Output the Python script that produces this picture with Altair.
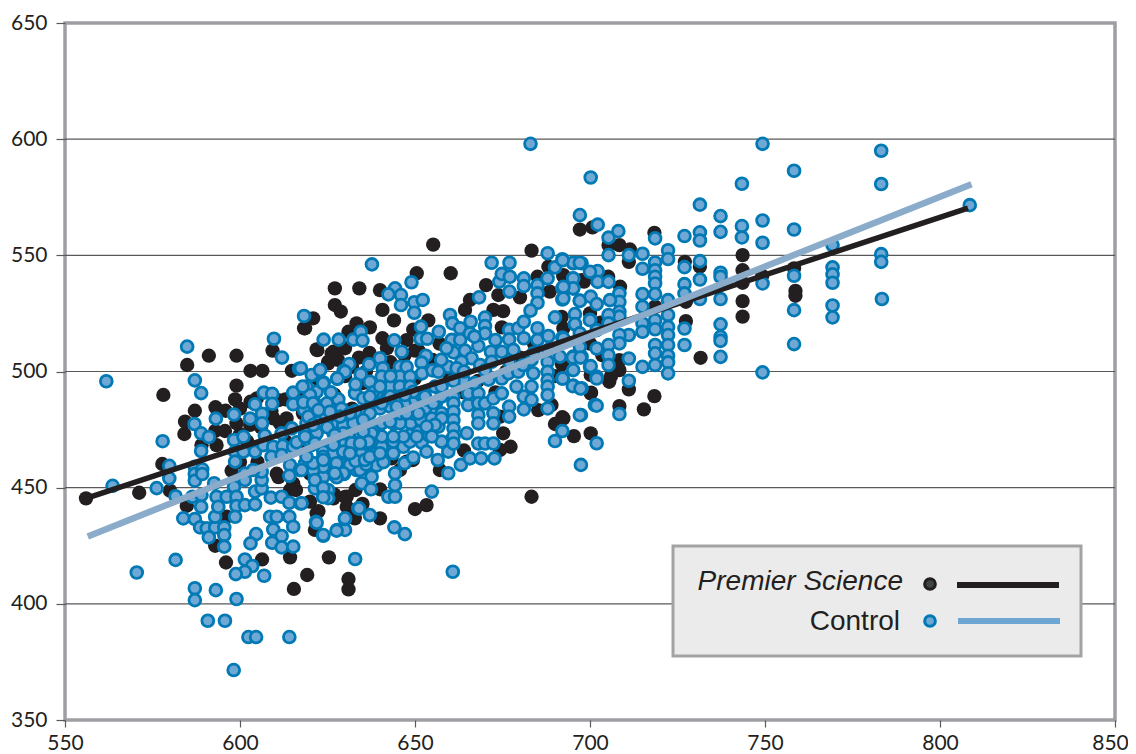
import altair as alt
import pandas as pd

# ---- data (x, y) ----
control_left = [
(561.8,495.8),(584.9,510.7),(587.1,496.2),(588.9,490.7),(577.9,470),(579.8,459.4),(579.8,454),(563.6,450.8),
(576.2,449.8),(581.6,446.3),(587,477.4),(588.9,473.4),(591.1,471.8),(588.9,465.8),(593.1,479.7),(598.3,481.5),
(602.9,479.7),(606.3,481.8),(606.3,477.7),(604.3,485.9),(606.8,490.9),(609.2,490.4),(609.2,486.1),(609.7,514.1),
(612,506),(616.9,501.2),(623.9,513.7),(628.2,513.7),(632.4,513.7),(622.7,500.3),(620.5,498.5),(623.9,495.2),
(627.8,496.9),(631.2,503.2),(629.6,500.3),(632.9,490.9),(615.2,490.9),(615.2,485.9),(618.3,487),(618.3,483.5),
(621.4,486.3),(621.9,491.3),(619,493.5),(625.2,486.3),(628.1,488),(626.7,482.7),(623.8,481.4),(619,477.7),
(618.6,473.4),(621.9,473.4),(627.6,477),(631.9,477.7),(598.3,470.5),(601,471.9),(607.1,472.4),(611.9,473.4),
(614.8,475.5),(598.6,465.5),(598.6,461.2),(601,465.5),(604.3,465.5),(606.7,468.3),(609.5,467.6),(612.2,468),
(615.2,467.6),(609,463.3),(611.9,464),(614.3,459.7),(614.1,455.1),(617.1,457.6),(618.6,460.4),(621.4,460.4),
(623.8,459.7),(621.4,454.7),(623.8,454.7),(621.4,449.7),(623.8,446.1),(625.2,449),(626.7,461.2),(629.5,459.7),
(631.4,459.7),(627.6,454.7),(629.7,455.9),(633.3,457.6),(623.8,465.5),(626.7,468.3),(630,465.5),(633,465),
(620.4,468.3),(616.2,469.5),
]
control_lowleft = [
(587.1,459),(587.1,455.9),(587.1,453),(589.2,457.9),(589.2,455.9),(586.4,446.1),(589,446.8),(588.9,441.8),
(583.8,436.8),(587.1,436.5),(588.6,432.9),(590.5,432.5),(592.9,432.9),(595.5,432.9),(591.1,428.6),(595.5,429.6),
(595.5,424.6),(592.9,437.5),(592.6,451.9),(593.3,446.1),(593.8,441.8),(596.2,446.1),(598.3,450.4),(599,446.1),
(599,442.1),(601.4,442.5),(604.3,442.8),(598.6,437.5),(604.3,448.3),(606.2,449.7),(606.2,453.3),(606.2,456.9),
(601.4,456.1),(603.8,457.6),(601.4,453.3),(608.8,445.7),(611.9,446.1),(614.1,443.5),(617.3,443.2),(608.6,437.5),
(610.5,437.5),(614.1,437.5),(609.5,432),(615.2,433.2),(611.9,429.2),(609.2,426.3),(611.9,424.3),(615.2,424.6),
(604.6,430),(603,426),(621.7,435.3),(623.8,429.3),(627.8,431.8),(630,431.8),(630,436.5),(633.8,441.1),(632.9,419.3),
(581.6,418.9),(570.5,413.5),(601.4,419.1),(603.5,416.3),(601.4,413.8),(598.8,412.8),(606.9,412.1),(587.1,406.7),
(587.1,401.6),(593.1,405.9),(599,402.1),(590.8,392.7),(595.7,392.7),(602.4,385.7),(604.6,385.7),(614.1,385.7),
(598.2,371.5),(660.8,413.8),
]
control_core = [
(637.7,546.1),(649,538.4),(644.3,535.8),(642.4,533.2),(646,532.9),(646,528.6),(649.8,529.8),(652.2,530.8),
(649.8,525.3),(618.3,523.9),(634.5,517.1),(635,513.3),(644.1,513.4),(646.2,508.5),(651.7,519.3),(651.6,514.1),
(653.5,514.1),(656.8,517.1),(653.1,506.8),(651.9,503.8),(652,499.2),(640,505.7),(640.8,501.4),(640.5,497.8),
(636.9,503.1),(634.5,498.8),(637.1,495.6),(630,499.9),(627.8,497),(623.8,494.9),(622.9,500.6),(617.4,501.4),
(620,489.9),(617.9,493.5),(618.1,486.7),(620.9,486.3),(624.8,486.3),(632.9,490.6),(635.2,488.4),(642.9,493.5),
(640,484.1),(645.7,502),(647.6,502),(645.7,497.8),(648.6,497.8),(645.7,493.5),(648.6,493.5),(652.4,490.6),
(655.7,493.5),(645.7,489.2),(649.5,486.3),(652.9,484.1),(657.6,482),(648.8,477.7),(651.7,479.1),(654.8,479.8),
(656.7,476.3),(648.6,472.7),(651.9,469.4),(653.3,465.5),(657.6,469.8),(659.5,465.5),(656.5,461.9),(659.5,456.2),
(663.1,459.8),(665.7,462.6),(668.9,462.6),(672.7,462.6),(654.8,448.3),(642.4,446.1),(644.3,446.1),(644.3,451.1),
(644.3,456.2),(643.8,464.8),(643.8,469.8),(640.5,467.6),(640.5,472),(643.8,477.7),(640.5,477.7),(637.6,464.8),
(637.1,469.1),(634.8,464.8),(634.3,473.4),(631.4,459.8),(629.5,456.2),(627.6,454.5),(623.8,459),(620.9,457.6),
(621.4,453.3),(623.8,450),(625.2,445.5),(623.8,445.9),(629.5,464.8),(626.7,464.8),(623.8,463.3),(620.9,460.5),
(637.6,454.7),(634.8,451.9),(637.4,449.3),(634.3,457.6),(634,441.1),(637.1,438.2),(630,436.8),(621.9,434.9),
(627.6,431.5),(623.8,429.6),(644.1,432.9),(647.1,430),(617.6,443.3),(626.7,473.4),(629.5,477),(619.5,470.5),
(627.1,469),(630,469),(632.9,469),(635.7,469),(640,489.2),(642.9,484.9),(637.1,482),(644.8,482),(649.5,482),
(645.7,477.7),(646.7,467.6),(648.6,469.8),(635,478),(638,474.5),(633,483),(629,484),(637.5,488),(642,488.5),
(631,473),(639,459.5),(641,461),(647,460.5),(649.5,463),(651,474),(654,472.5),(647,486),(653,488),(656,486.5),
(658,490),(655,500.5),(643,498),(638,491),(633,494.5),(626,491),(622,478),(625,476),(633,461.5),(636,460),
]
control_core_fill = [
(657.6,479.8),(655.7,477),(651,482),(645.7,482),(642.9,478.4),(637.6,473.4),(635.2,474.1),(632.4,477.7),(629.5,473.4),
(627.1,472.7),(618.6,471.9),(621.4,469.1),(626.7,468.4),(629.5,465.5),(631.9,469.1),(636.7,469.8),(634.3,469.1),(631.4,464.8),
(627.6,460.5),(623.8,461.9),(619,463.3),(617.6,457.6),(627.1,456.2),(635.7,461.9),(640.5,486.3),(642.9,489.2),(640,493.5),
(637.1,489.2),(631.4,482),(628.6,480.6),(625.7,482.7),(622.4,483.4),(619.5,480.6),(620.9,477),(635.2,479.1),(655.2,486.3),
(652.9,489.2),(657.6,489.2),(657.6,493.5),(649.5,491.3),(647.1,489.9),(644.8,484.9),(647.6,482),(653.3,476.3),(650.5,472),
(654.8,472),(646.7,472),(643.8,472),(637.1,463.3),(640,464.8),
]
control_mid = [
(660,524.3),(660.7,520.7),(662.9,518.6),(665.9,521.4),(670,523.2),(670,519.6),(670,516.4),(671.9,546.8),(677,546.8),
(668.3,531.9),(674.1,538.7),(674.8,542),(677.1,540.8),(677,534.4),(681.1,540.1),(681.1,536.8),(687.9,550.9),
(692.1,548.3),(690,544.8),(695.2,546.6),(697.6,546.6),(687.9,540.1),(685,537.2),(685,533.6),(685,529.6),(692.1,535.8),
(692.1,531),(695.2,540.1),(695.2,535.8),(697.1,530.5),(683,526.2),(695.7,524.7),(695.7,520.3),(690,523.3),(700,522.2),
(676.9,517.9),(676.9,513.8),(679.5,518.6),(681.1,521.4),(681.1,514.3),(685,518.6),(685,513.6),(688.1,515.3),(692.1,514.6),
(660.5,513.6),(662.9,513.6),(665.7,516.4),(661,508.2),(664.3,509),(668.1,511),(666.2,505.7),(663.3,504.2),(659.5,502),
(671.7,508.5),(674.8,508.5),(668.6,502.8),(671.9,504.2),(656.7,499.9),(661.9,501.4),(661,489.2),(661,486.3),(661,482.7),
(661,479.1),(661,475.5),(661,472),(661,469),(665.2,485.6),(665.2,490.6),(668.1,490.6),(668.1,486.3),(668.1,481.3),
(668.1,477.7),(668.1,469),(670,486.3),(672.4,488.4),(672.4,482),(672.4,477.7),(670,469),(672.4,469),(664.8,473.4),
(674.8,497),(674.8,490.6),(676.7,499.2),(679.5,499.9),(683.8,499.2),(679,493.5),(681.1,489.2),(681.1,483.7),(683.3,505),
(683.3,493.5),(683.3,487.8),(676.9,484.9),(676.9,480.6),(687.9,504.2),(687.9,499.9),(687.9,496.3),(687.9,493.5),
(687.9,489.9),(687.9,484.1),(692.1,497),(695.2,493.9),(697.6,492.8),(695.2,506.4),(697.6,506.4),(700,502),(701.9,497.8),
(701.4,485.6),(697.4,481.3),(692.1,474.4),(690,470.1),(701.9,469.1),(697.4,459.8),(680.9,502.8),(678.1,509.3),(688.1,509.3),
(683.8,507.8),(691.4,506.4),(664,496),(667,495),(671,496.5),(661,496),(657.5,505),(659,510),(664,500),(670,500.5),
(677,504),(673,513.5),(667,515),
]
control_right = [
(749.3,598),(783.2,595),(700.2,583.5),(758.3,586.4),(743.4,580.8),(783.2,580.7),(808.5,571.6),(731.4,571.8),(737.3,566.9),
(697.1,567.3),(702.2,563.2),(743.4,562.6),(749.3,565),(743.4,557.7),(737.3,560.1),(731.4,559.9),(731.4,556.4),(727,558.3),
(758.3,561.1),(749.3,555.4),(705.3,557.6),(708.1,560.4),(718.6,557.3),(722.3,552.2),(722.3,548.4),(715,550.7),(711.1,550.1),
(705.3,550.1),(718.6,546.9),(718.6,543.6),(718.6,540.8),(718.6,537.9),(715,544.2),(727,544.9),(731.4,547.5),(731.4,539.6),
(737.3,542.5),(737.3,540.8),(727,537.6),(727,533.6),(715,533.3),(718.6,533.3),(715,527.9),(722.3,530.7),(731.4,531.2),
(737.3,531.2),(722.3,524.3),(722.3,519.2),(722.3,515.7),(722.3,511.4),(722.3,506.8),(722.3,503.9),(722.3,499.2),(718.6,522.1),
(718.6,518.2),(715,520.7),(715,517.1),(727,518.5),(727,511.4),(718.6,511.4),(718.6,507.8),(718.6,502.8),(715,502),(711.1,515.7),
(711.1,505.6),(711.1,496),(737.3,520.3),(737.3,514.9),(737.3,513.2),(737.3,506.3),(758.3,541.2),(758.3,526.4),(758.3,511.8),
(749.3,537.9),(749.3,499.6),(769.3,554.4),(769.3,544.8),(769.3,541.8),(769.3,538.2),(769.3,528.4),(769.3,523.3),(783.2,550.5),
(783.2,547.2),(783.4,531.2),(683,598),
(702.2,543.2),(702.2,538.6),(700,542.9),(695.2,546.8),(697.1,546.8),(692.2,547.9),(695.2,540),(695.2,535.8),(692.4,536.5),
(692.4,531.4),(697.1,530.4),(700.2,532.2),(701.9,529),(695.7,520.4),(700,522.1),(701.9,517.8),(697.1,516.4),(692.4,514.2),
(697.1,510.6),(701.9,509.9),(695.1,506),(697.3,506),(700.2,502.3),(695.2,500.6),(701.9,497),(692.2,497),(695.1,493.7),
(697.3,492.7),(701.9,485.3),(697.1,481.2),(708.4,481.7),(708.4,533.6),(708.4,530),(708.4,525.7),(708.4,523.6),(708.4,515.7),
(708.4,512.1),(705.3,538.6),(705.7,530.7),(705.3,524.3),(705.3,520.7),(705.3,511.4),(705.3,507),(705.3,502.8),
]
premier_left = [
(556,445.4),(571.2,447.8),(578.1,489.9),(591.1,506.8),(599,506.8),(584.9,502.8),(603,500.3),(606.4,500.3),(609.3,509),(614.8,500.3),
(618.3,518.6),(622.1,509.2),(626.2,507.8),(625.2,504.2),(599,493.9),(598.6,488),(587.1,483.1),(593,484.6),(595.9,483.1),(584.3,478.4),
(584.1,473.1),(593.3,468.3),(589,468.3),(577.8,460.2),(580,448.7),(584.8,442.2),(592.9,474.4),(595.7,474.4),(599,477.7),(602.9,477),
(604.8,488.4),(611,487.7),(609.5,479.8),(613.3,479.8),(611.4,477.7),(597.6,457.3),(610.5,456),(611,454.5),(615.2,451.8),(614.3,449),
(621.9,439),(621.4,431.8),(630,446),(630.5,441.8),(632.8,436.8),(596.2,437.5),(592.9,425),(596,417.8),(606.3,419.1),(614.3,420),(625.4,420),
(619.2,412.4),(615.4,406.4),(631,410.7),(631,406.2),(600,484),(603,487),(618,482),(622,477),(628,473),(632,470),(618,470),(613,470),
(605,461),(600,461),(620,456),(616,449),(627,447),(633,449),(635,443),
(628,505),(632,502),(636,500),(643,504),(647,507),(651,509),(654,502),(641,498),(635,495),(630,498),(622,497),(618,490),(613,488),
(609,483),(606,476),(602,470),(600,473),
]
premier_mid = [
(655.2,554.6),(683.3,552),(660.2,542.3),(650.5,542.3),(627.1,535.8),(634.1,535.8),(640,535),(627.1,528.6),(628.8,525.8),(640.7,526.5),
(620.9,522.9),(618.6,518.6),(633.3,520.7),(637.1,519),(631,517.1),(640.7,514.3),(621.9,509.5),(626.7,508.5),(625.2,503.5),(647.6,513.5),
(650,509),(653.8,522),(649.5,518),(665.7,530.8),(664.3,526.5),(672.4,526.5),(675.2,526),(670.3,537.2),(673.8,532.9),(674.8,519),
(680,531.9),(685,540.8),(688.1,545.1),(688.5,534.4),(692.4,541.5),(698.3,538.7),(692.4,518.6),(698,513.5),(700.3,490.9),(692.1,480.3),
(690,477.4),(695.4,472.2),(700.2,473.4),(683.3,446.1),(653.3,442.5),(650,440.8),(677.3,467.6),(674.3,466.2),(675.2,473.4),(674.3,480.6),
(685.2,483.4),(689,485.6),(647.6,461.2),(643.3,462.6),(645.7,457.6),(657.1,457.6),(630.5,446.1),(631.4,440.4),(626.7,445.4),(620,444),
(622.4,439.9),(640,436.8),(640,449.3),(649.4,461.9),(660,470),(656,478),(664,466),(655,505),(657,512),(650,497),(660,498),(642,510),(637,508),
(634,506),(630,510),(644,522),(640,495),(632,484),(627,490),(664,491),(668,496),(676,500),(680,506),(684,512),(673,491),
]
premier_right = [
(697.1,561.1),(700.7,562),(718.4,559.7),(705.3,554.4),(708.4,554.4),(711.4,552.5),(711.1,547.2),(727.1,547.2),(731.4,545.1),(743.6,550.1),
(743.6,543.6),(743.6,538.2),(749.2,541.2),(758.3,544.4),(758.7,534.7),(758.7,532.6),(743.6,530.3),(743.6,523.6),(727.4,530),(727.4,521.7),
(718.6,527.9),(731.6,505.9),(708.4,504.9),(708.4,500.6),(705.5,495.6),(700.2,490.6),(711.1,492.3),(718.4,489.4),(715.4,483.7),(708.4,485.1),
(692.4,479.8),(700.2,498.5),(705.2,540.8),(708.6,536.5),(692.4,541),(697.6,539.3),(691.9,523.5),(700,525),(703,521),(700,512),(706,498),
(703.5,507),(692,503),(690,498),
]
legend_labels = ["Premier Science", "Control"]
y_ticks = [350, 400, 450, 500, 550, 600, 650]
x_ticks = [550, 600, 650, 700, 750, 800, 850]
grid_y = [400, 450, 500, 550, 600]
premier_fit = [(556, 445.4), (808, 570.3)]
control_fit = [(556.5, 429), (809, 580.6)]

def frame(*groups):
    rows = [p for g in groups for p in g]
    return pd.DataFrame(rows, columns=["x", "y"])

control = frame(control_left, control_lowleft, control_core, control_core_fill, control_mid, control_right)
premier = frame(premier_left, premier_mid, premier_right)

X = alt.X("x:Q", scale=alt.Scale(domain=[550, 850], nice=False, zero=False),
          axis=alt.Axis(values=x_ticks, title=None, grid=False, domain=False, labelFlush=False,
                        labelOffset={"condition": {"test": "datum.value == 850", "value": -5}, "value": 0}))
Y = alt.Y("y:Q", scale=alt.Scale(domain=[350, 650], nice=False, zero=False),
          axis=alt.Axis(values=y_ticks, title=None, grid=False, domain=False, labelFlush=False))

grid = alt.Chart(pd.DataFrame({"y": grid_y})).mark_rule(color="#58595b", strokeWidth=1.2).encode(y=Y)

pts_p = alt.Chart(premier).mark_circle(size=205, color="#231f20", opacity=1).encode(x=X, y=Y)
pts_c = alt.Chart(control).mark_point(size=140, filled=True, fill="#6fa8d5", stroke="#0079b5",
                                      strokeWidth=2.8, opacity=1).encode(x=X, y=Y)
line_p = alt.Chart(frame(premier_fit)).mark_line(color="#231f20", strokeWidth=5.5).encode(x=X, y=Y)
line_c = alt.Chart(frame(control_fit)).mark_line(color="#8aacca", strokeWidth=6.5).encode(x=X, y=Y)

one = alt.Data(values=[{}])
box = alt.Chart(one).mark_rect(fill="#ebebeb", stroke="#a3a3a3", strokeWidth=3).encode(
    x=alt.value(608), x2=alt.value(1016), y=alt.value(523), y2=alt.value(633))
txt1 = alt.Chart(one).mark_text(text=legend_labels[0], font="Liberation Sans", fontSize=28, fontStyle="italic",
                                align="right", baseline="alphabetic", color="#231f20").encode(
    x=alt.value(838), y=alt.value(567))
txt2 = alt.Chart(one).mark_text(text=legend_labels[1], font="Liberation Sans", fontSize=28,
                                align="right", baseline="alphabetic", color="#231f20").encode(
    x=alt.value(835), y=alt.value(607))
sym1 = alt.Chart(one).mark_point(size=115, filled=True, fill="#3f4447", stroke="#231f20", strokeWidth=3, opacity=1).encode(
    x=alt.value(865), y=alt.value(561))
sym2 = alt.Chart(one).mark_point(size=115, filled=True, fill="#6fa8d5", stroke="#0079b5", strokeWidth=3, opacity=1).encode(
    x=alt.value(865), y=alt.value(598))
lin1 = alt.Chart(one).mark_rule(color="#231f20", strokeWidth=6).encode(
    x=alt.value(892), x2=alt.value(994), y=alt.value(562))
lin2 = alt.Chart(one).mark_rule(color="#6ea6d3", strokeWidth=6).encode(
    x=alt.value(893), x2=alt.value(995), y=alt.value(598))

chart = alt.layer(grid, pts_p, pts_c, line_p, line_c, box, txt1, txt2, sym1, sym2, lin1, lin2).properties(
    width=1050, height=697,
    padding={"left": 57, "top": 15, "right": 13, "bottom": 34},
    autosize=alt.AutoSizeParams(type="none"),
    background="white",
).configure_view(stroke="#9d9fa2", strokeWidth=3.5).configure_axis(
    labelFont="Lato", labelFontSize=21, labelColor="#231f20",
    tickColor="#58595b", tickWidth=1.2,
).configure_axisX(tickSize=7, labelPadding=5.5).configure_axisY(tickSize=9, labelPadding=9)

chart.save("out.html", embed_options={"renderer": "svg", "actions": False})
